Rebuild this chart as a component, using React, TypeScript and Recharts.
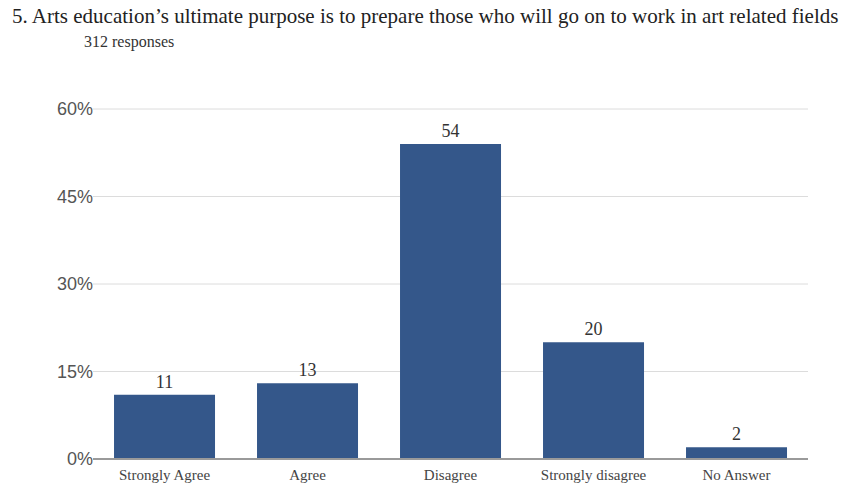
import React from "react";
import { BarChart, Bar, XAxis, YAxis, CartesianGrid, LabelList } from "recharts";

const categories = ["Strongly Agree", "Agree", "Disagree", "Strongly disagree", "No Answer"];
const percentValues = [11, 13, 54, 20, 2];
const yTicks = [0, 15, 30, 45, 60];

const data = categories.map((name, i) => ({ name, value: percentValues[i] }));

const SERIF = "'Liberation Serif', 'Times New Roman', serif";

export default function App() {
  return (
    <div style={{ position: "absolute", left: 0, top: 0, width: 845, height: 484, background: "#fff", overflow: "hidden" }}>
      <div
        style={{
          position: "absolute",
          left: 12,
          top: 4,
          fontFamily: SERIF,
          fontSize: 21,
          color: "#222",
          whiteSpace: "nowrap",
        }}
      >
        5. Arts education’s ultimate purpose is to prepare those who will go on to work in art related fields
      </div>
      <div
        style={{
          position: "absolute",
          left: 84,
          top: 33,
          fontFamily: SERIF,
          fontSize: 16,
          color: "#333",
          whiteSpace: "nowrap",
        }}
      >
        312 responses
      </div>
      <div style={{ position: "absolute", left: 0, top: 0 }}>
        <BarChart
          width={845}
          height={484}
          data={data}
          margin={{ top: 109, right: 37, bottom: 5, left: 0 }}
          barCategoryGap="14.7%"
        >
          <CartesianGrid vertical={false} stroke="#dcdcdc" />
          <XAxis
            dataKey="name"
            height={20}
            axisLine={{ stroke: "#9a9a9a", strokeWidth: 2 }}
            tickLine={false}
            tickMargin={4}
            interval={0}
            tick={{ fontFamily: SERIF, fontSize: 15, fill: "#444" }}
          />
          <YAxis
            width={93}
            domain={[0, 60]}
            ticks={yTicks}
            axisLine={false}
            tickLine={false}
            tickSize={0}
            tickMargin={0}
            tickFormatter={(v: number) => `${v}%`}
            tick={{ fontFamily: "'Liberation Sans', Arial, sans-serif", fontSize: 18, fill: "#555" }}
          />
          <Bar dataKey="value" fill="#34578a" isAnimationActive={false}>
            <LabelList
              dataKey="value"
              position="top"
              offset={7}
              style={{ fontFamily: SERIF, fontSize: 18, fill: "#333" }}
            />
          </Bar>
        </BarChart>
      </div>
    </div>
  );
}
